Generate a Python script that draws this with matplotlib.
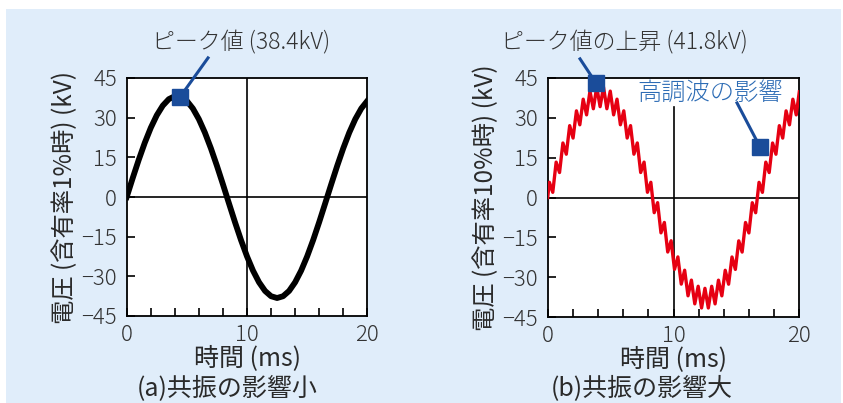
import numpy as np
import matplotlib
matplotlib.use("Agg")
import matplotlib.pyplot as plt
from matplotlib.patches import Rectangle

plt.rcParams['font.family'] = ['Noto Sans CJK JP', 'DejaVu Sans']

# (a) 含有率1% : sampled every 0.5 ms
t_a = np.linspace(0, 20, 41)
v_a = [0.00, 7.16, 14.06, 20.47, 26.15, 30.90, 34.56, 37.00, 38.12, 37.90,
       36.33, 33.47, 29.43, 24.35, 18.40, 11.80, 4.79, -2.40, -9.50, -16.27,
       -22.45, -27.85, -32.25, -35.52, -37.52, -38.20, -37.52, -35.52, -32.25, -27.85,
       -22.45, -16.27, -9.50, -2.40, 4.79, 11.80, 18.40, 24.35, 29.43, 33.47,
       36.33]

# (b) 含有率10% : ripple peaks / troughs
t_b = np.concatenate([[0.0], 0.134 + 0.2688 * np.arange(74), [20.0]])
v_b = [0.00,
       5.73, 1.95, 13.32, 9.40, 20.53, 16.30, 27.06, 22.38, 32.63, 27.38,
       37.02, 31.12, 40.06, 33.42, 41.61, 34.20, 41.61, 33.42, 40.06, 31.12,
       37.03, 27.39, 32.64, 22.39, 27.07, 16.31, 20.54, 9.41, 13.33, 1.96,
       5.73, -5.72, -1.94, -13.31, -9.39, -20.53, -16.29, -27.05, -22.37, -32.62,
       -27.38, -37.02, -31.11, -40.05, -33.42, -41.60, -34.20, -41.61, -33.43, -40.06,
       -31.13, -37.03, -27.40, -32.65, -22.40, -27.08, -16.32, -20.55, -9.41, -13.34,
       -1.97, -5.74, 5.71, 1.94, 13.31, 9.39, 20.52, 16.29, 27.05, 22.37,
       32.62, 27.37, 37.01, 31.11,
       39.80]

y_ticks = [45, 30, 15, 0, -15, -30, -45]
x_labels = [0, 10, 20]

W, H = 843, 403
fig = plt.figure(figsize=(W / 100, H / 100), dpi=100)
fig.patch.set_facecolor('white')
fig.patches.append(Rectangle((6 / W, 0), 835 / W, 1 - 9 / H, transform=fig.transFigure,
                             facecolor='#e0edfa', edgecolor='none', zorder=-10))

blue = '#1a4c9a'
txt = '#2a2a2a'


def setup(ax):
    ax.set_xlim(0, 20)
    ax.set_ylim(-45, 45)
    ax.set_facecolor('white')
    ax.set_xticks(x_labels)
    ax.set_xticks(np.arange(0, 21, 2), minor=True)
    ax.set_yticks(y_ticks)
    ax.tick_params(axis='both', which='both', direction='in', length=6, width=1.2,
                   color='black', labelsize=16, labelcolor='#333333')
    ax.tick_params(axis='y', pad=7)
    ax.tick_params(axis='x', pad=6)
    ax.tick_params(axis='x', which='minor', length=6)
    for lab in ax.get_xticklabels() + ax.get_yticklabels():
        lab.set_fontweight('light')
    for s in ax.spines.values():
        s.set_linewidth(1.3)
    ax.axhline(0, color='black', lw=1.2, zorder=1)


axa = fig.add_axes([126.7 / W, 1 - 316 / H, 240.6 / W, 238 / H])
setup(axa)
axa.axvline(10, color='black', lw=1.2, zorder=1)
axa.plot(t_a, v_a, color='black', lw=4.2, solid_joinstyle='round', zorder=3)
axa.set_ylabel('電圧 (含有率1%時) (kV)', fontsize=17.5, color=txt, labelpad=2)
axa.set_xlabel('時間 (ms)', fontsize=18, color=txt, labelpad=-1)
axa.plot([4.43, 6.76], [37.8, 52.6], color=blue, lw=2.2, clip_on=False, zorder=5)
axa.plot([4.43], [37.8], marker='s', ms=11, color=blue, clip_on=False, zorder=6)
fig.text(241 / W, 1 - 43 / H, 'ピーク値 (38.4kV)', fontsize=16.5, color='#333333',
         ha='center', va='center', fontweight='light')
fig.text(227 / W, 1 - 401 / H, '(a)共振の影響小', fontsize=18, color=txt,
         ha='center', va='bottom')

axb = fig.add_axes([547.7 / W, 1 - 317 / H, 251.6 / W, 239 / H])
setup(axb)
axb.plot([10, 10], [-45, 34], color='black', lw=1.2, zorder=1)
axb.plot(t_b, v_b, color='#e60012', lw=2.4, solid_joinstyle='round', zorder=3)
axb.set_ylabel('電圧 (含有率10%時) (kV)', fontsize=17.5, color=txt, labelpad=2)
axb.set_xlabel('時間 (ms)', fontsize=18, color=txt, labelpad=-1)
axb.plot([3.84, 2.57], [43.1, 52.2], color=blue, lw=2.2, clip_on=False, zorder=5)
axb.plot([3.84], [43.1], marker='s', ms=11, color=blue, clip_on=False, zorder=6)
axb.plot([16.88, 15.05], [19.0, 35.6], color=blue, lw=2.2, zorder=5)
axb.plot([16.88], [19.0], marker='s', ms=11, color=blue, clip_on=False, zorder=6)
axb.text(12.9, 39.4, '高調波の影響', fontsize=17.5, color='#2d6cb5', ha='center', va='center',
         fontweight='light', zorder=4)
fig.text(624 / W, 1 - 43 / H, 'ピーク値の上昇 (41.8kV)', fontsize=16.5, color='#333333',
         ha='center', va='center', fontweight='light')
fig.text(642 / W, 1 - 401 / H, '(b)共振の影響大', fontsize=18, color=txt,
         ha='center', va='bottom')

fig.savefig('out.png', dpi=100)
